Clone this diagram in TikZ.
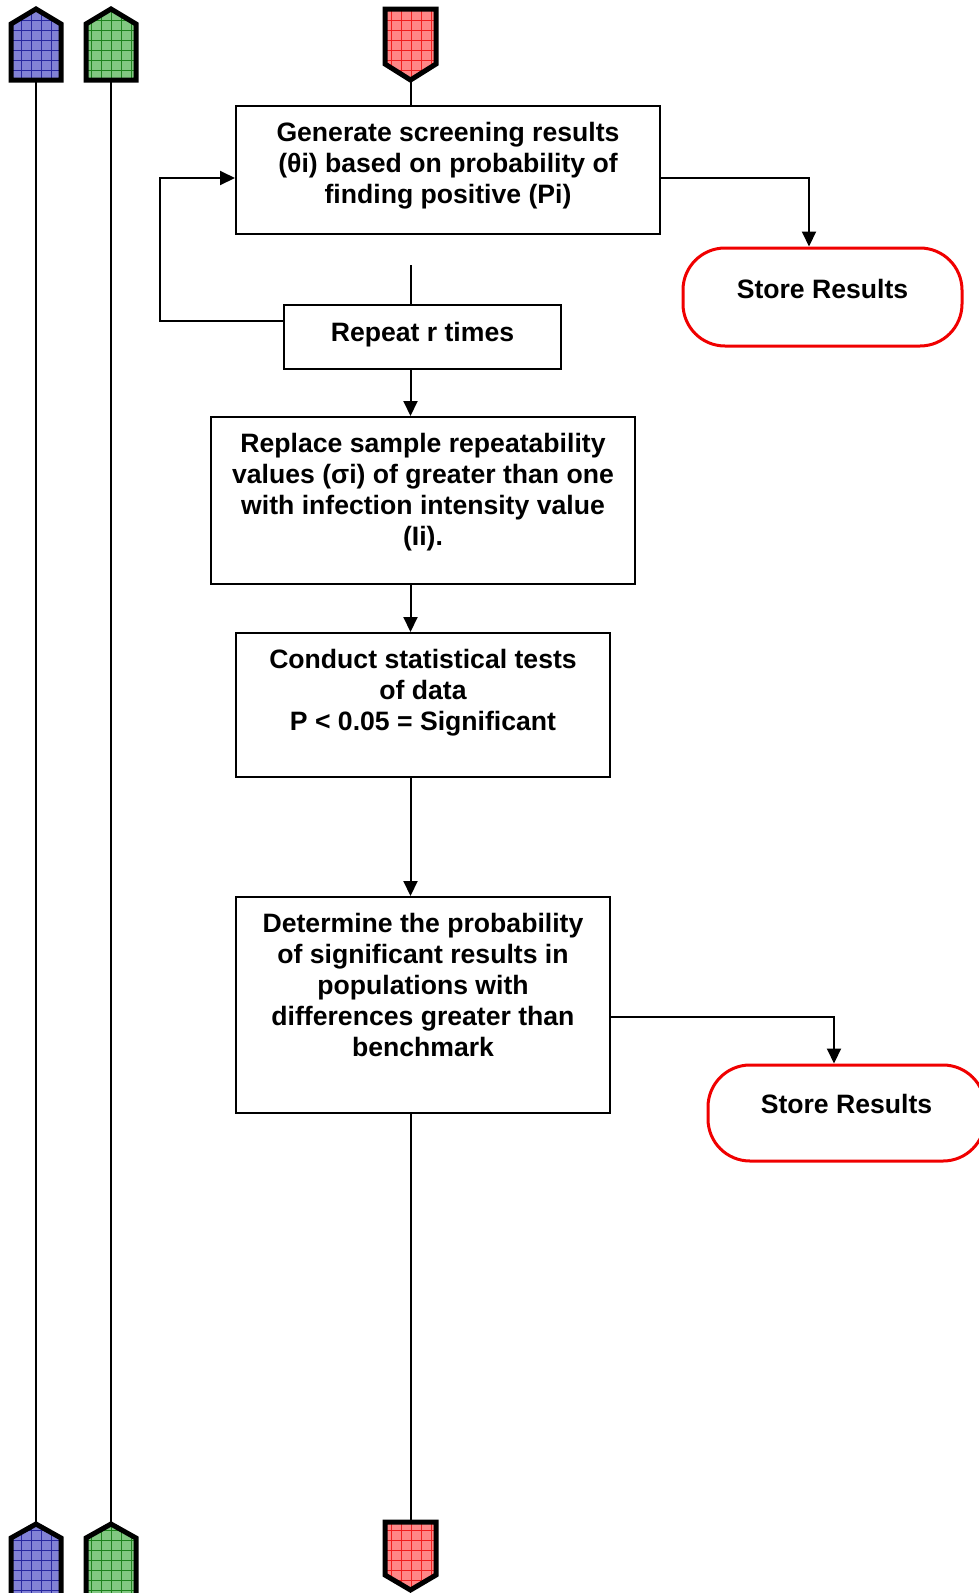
\documentclass[tikz,border=0pt]{standalone}
\usepackage{fontspec}
\setmainfont{Liberation Sans}
\usetikzlibrary{arrows.meta,calc}
\definecolor{bluefill}{RGB}{130,130,214}
\definecolor{bluegrid}{RGB}{40,40,160}
\definecolor{greenfill}{RGB}{130,200,130}
\definecolor{greengrid}{RGB}{30,130,30}
\definecolor{redfill}{RGB}{255,135,135}
\definecolor{redgrid}{RGB}{240,30,30}
\definecolor{storered}{RGB}{240,0,0}
\tikzset{
  procbox/.style={draw=black, line width=2pt, inner sep=0pt, fill=white},
  storebox/.style={draw=storered, line width=3pt, rounded corners=42pt, inner sep=0pt, fill=white},
  lbl/.style={font=\fontsize{26.6}{31}\selectfont\bfseries, align=center, inner sep=0pt, anchor=north},
  conn/.style={line width=2pt, draw=black},
  arr/.style={conn, -{Triangle[length=15pt,width=14pt]}},
  markline/.style={line width=5pt, line join=miter},
}
\newcommand{\marker}[3]{%
  \begin{scope}
    \clip #1;
    \fill[#2] (-20,-20) rectangle (1000,1620);
    \draw[#3, line width=1pt, step=10pt, shift={(1.7,0)}] (-20,-20) grid (1000,1620);
  \end{scope}
  \draw[markline] #1;
}
\begin{document}
\begin{tikzpicture}[x=1pt,y=-1pt]
\useasboundingbox (0,0) rectangle (979,1593);
\clip (0,0) rectangle (979,1593);

% vertical swimlane lines
\coordinate (bt) at (36,80);
\coordinate (bb) at (36,1524);
\coordinate (gt) at (111,80);
\coordinate (gb) at (111,1524);
\draw[conn] (bt) -- (bb);
\draw[conn] (gt) -- (gb);

% markers
\marker{(11,80) -- (11,24) -- (36,9) -- (61,24) -- (61,80) -- cycle}{bluefill}{bluegrid}
\marker{(86,80) -- (86,24) -- (111,9) -- (136,24) -- (136,80) -- cycle}{greenfill}{greengrid}
\marker{(385,9) -- (436,9) -- (436,64) -- (410.5,80) -- (385,64) -- cycle}{redfill}{redgrid}
\marker{(11,1610) -- (11,1538) -- (36,1524) -- (61,1538) -- (61,1610) -- cycle}{bluefill}{bluegrid}
\marker{(86,1610) -- (86,1538) -- (111,1524) -- (136,1538) -- (136,1610) -- cycle}{greenfill}{greengrid}
\marker{(385,1522) -- (436,1522) -- (436,1575) -- (410.5,1590) -- (385,1575) -- cycle}{redfill}{redgrid}

\coordinate (rt) at (410.5,80);
\coordinate (rb) at (410.5,1522);

% boxes
\node[procbox, minimum width=424pt, minimum height=128pt] (b1) at (448,170) {};
\node[storebox, minimum width=279pt, minimum height=98pt] (s1) at (822.5,297) {};
\node[procbox, minimum width=277pt, minimum height=64pt] (rep) at (422.5,337) {};
\node[procbox, minimum width=424pt, minimum height=167pt] (b3) at (423,500.5) {};
\node[procbox, minimum width=374pt, minimum height=144pt] (b4) at (423,705) {};
\node[procbox, minimum width=374pt, minimum height=216pt] (b5) at (423,1005) {};
\node[storebox, minimum width=277pt, minimum height=96pt] (s2) at (846.5,1113) {};

% labels
\node[lbl] (t1) at (448,120) {\strut Generate screening results\\(θi) based on probability of\\finding positive (Pi)};
\node[lbl] (ts1) at (822.5,277) {\strut Store Results};
\node[lbl] (trep) at (422.5,320) {\strut Repeat r times};
\node[lbl] (t3) at (423,431) {\strut Replace sample repeatability\\values (σi) of greater than one\\with infection intensity value\\(Ii).};
\node[lbl] (t4) at (423,647) {\strut Conduct statistical tests\\of data\\P < 0.05 = Significant};
\node[lbl] (t5) at (423,911) {\strut Determine the probability\\of significant results in\\populations with\\differences greater than\\benchmark};
\node[lbl] (ts2) at (846.5,1092) {\strut Store Results};

% connectors
\coordinate (c1) at (410.5,265);
\coordinate (lp) at (160,321);
\coordinate (lq) at (160,178);
\coordinate (r1) at (809,178);
\coordinate (r2) at (834,1017);

\draw[conn] (rt) -- (rt |- b1.north);
\draw[conn] (c1) -- (c1 |- rep.north);
\draw[arr] (lp -| rep.west) -- (lp) -- (lq) -- (lq -| b1.west);
\draw[arr] (r1 -| b1.east) -- (r1) -- (r1 |- s1.north);
\draw[arr] (c1 |- rep.south) -- (c1 |- b3.north);
\draw[arr] (c1 |- b3.south) -- (c1 |- b4.north);
\draw[arr] (c1 |- b4.south) -- (c1 |- b5.north);
\draw[arr] (r2 -| b5.east) -- (r2) -- (r2 |- s2.north);
\draw[conn] (c1 |- b5.south) -- (rb);
\end{tikzpicture}
\end{document}
